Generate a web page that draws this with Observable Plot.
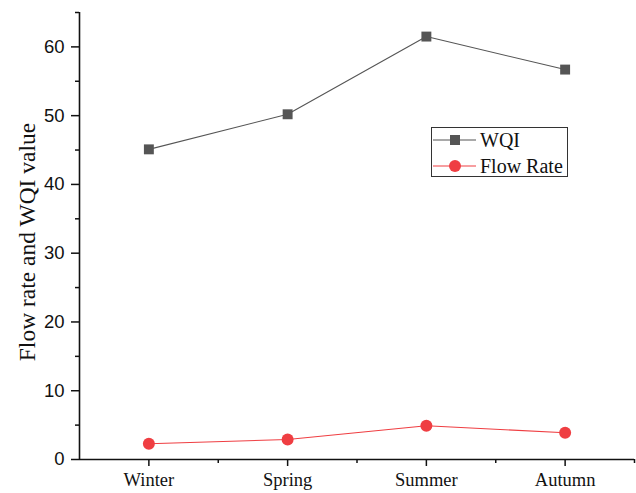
<!DOCTYPE html>
<html>
<head>
<meta charset="utf-8">
<script src="https://cdn.jsdelivr.net/npm/d3@7"></script>
<script src="https://cdn.jsdelivr.net/npm/@observablehq/plot@0.6"></script>
<style>
  body { margin: 0; background: #fff; }
  #wrap { position: relative; width: 636px; height: 493px; }
  #legend { position: absolute; left: 431px; top: 127px; width: 135px; height: 48px;
            border: 1px solid #333; font-family: "Liberation Serif", serif; font-size: 20px; color: #111; }
  .row { position: absolute; left: 0; height: 22px; display: flex; align-items: center; }
  .row svg { display: block; }
  .row span { margin-left: 2px; line-height: 22px; }
</style>
</head>
<body>
<div id="wrap"></div>
<script>
const seasons = ["Winter", "Spring", "Summer", "Autumn"];
const wqi = [45.1, 50.2, 61.5, 56.7];
const flowRate = [2.3, 2.9, 4.9, 3.9];
const yTicks = [0, 10, 20, 30, 40, 50, 60];
const yMinor = [5, 15, 25, 35, 45, 55, 65];
const seriesNames = ["WQI", "Flow Rate"];
const grayColor = "#555555";
const redColor = "#ef3e42";

const wqiData = seasons.map((s, i) => ({i, season: s, value: wqi[i]}));
const flowData = seasons.map((s, i) => ({i, season: s, value: flowRate[i]}));
const xIdx = seasons.map((s, i) => i);
const xMinor = seasons.map((s, i) => i + 0.5);

const chart = Plot.plot({
  width: 636,
  height: 493,
  marginLeft: 79,
  marginRight: 2,
  marginTop: 12,
  marginBottom: 34,
  style: {background: "transparent"},
  x: {type: "linear", domain: [-0.5, 3.5], axis: null},
  y: {domain: [0, 65], axis: null},
  marks: [
    Plot.ruleY([0], {stroke: "#111", strokeWidth: 1.6}),
    Plot.ruleX([-0.5], {stroke: "#111", strokeWidth: 1.6}),
    Plot.axisY({ticks: yTicks, tickSize: 8, tickPadding: 7, label: null, stroke: "#111", strokeWidth: 1.5,
      fontFamily: "Liberation Sans, Arial, sans-serif", fontSize: 18.5, fill: "#111"}),
    Plot.axisY({ticks: yMinor, tickSize: 4, text: null, label: null, stroke: "#111", strokeWidth: 1.5}),
    Plot.axisX({ticks: xIdx, tickFormat: i => seasons[i], tickSize: 7, tickPadding: 6, label: null,
      stroke: "#111", strokeWidth: 1.5,
      fontFamily: "Liberation Serif, Times New Roman, serif", fontSize: 18.5, fill: "#111"}),
    Plot.axisX({ticks: xMinor, tickSize: 4, text: null, label: null, stroke: "#111", strokeWidth: 1.5}),
    Plot.text(["Flow rate and WQI value"], {frameAnchor: "left", textAnchor: "middle", rotate: -90, dx: -52, dy: 6,
      fontFamily: "Liberation Serif, Times New Roman, serif", fontSize: 23.5, fill: "#111"}),
    Plot.line(wqiData, {x: "i", y: "value", stroke: grayColor, strokeWidth: 1.1}),
    Plot.dot(wqiData, {x: "i", y: "value", symbol: "square", r: 5.6, fill: grayColor, stroke: "none"}),
    Plot.line(flowData, {x: "i", y: "value", stroke: redColor, strokeWidth: 1.1}),
    Plot.dot(flowData, {x: "i", y: "value", symbol: "circle", r: 6, fill: redColor, stroke: "none"})
  ]
});

const wrap = document.getElementById("wrap");
wrap.appendChild(chart);

const legend = document.createElement("div");
legend.id = "legend";
const rowSpecs = [
  {name: seriesNames[0], color: grayColor, sym: "square", top: 1},
  {name: seriesNames[1], color: redColor, sym: "circle", top: 27}
];
for (const r of rowSpecs) {
  const row = document.createElement("div");
  row.className = "row";
  row.style.top = r.top + "px";
  const ns = "http://www.w3.org/2000/svg";
  const svg = document.createElementNS(ns, "svg");
  svg.setAttribute("width", 46);
  svg.setAttribute("height", 22);
  const ln = document.createElementNS(ns, "line");
  ln.setAttribute("x1", 1); ln.setAttribute("x2", 44);
  ln.setAttribute("y1", 11); ln.setAttribute("y2", 11);
  ln.setAttribute("stroke", r.color); ln.setAttribute("stroke-width", 1.1);
  svg.appendChild(ln);
  let m;
  if (r.sym === "square") {
    m = document.createElementNS(ns, "rect");
    m.setAttribute("x", 18); m.setAttribute("y", 6); m.setAttribute("width", 10); m.setAttribute("height", 10);
  } else {
    m = document.createElementNS(ns, "circle");
    m.setAttribute("cx", 23); m.setAttribute("cy", 11); m.setAttribute("r", 6);
  }
  m.setAttribute("fill", r.color);
  svg.appendChild(m);
  row.appendChild(svg);
  const t = document.createElement("span");
  t.textContent = r.name;
  row.appendChild(t);
  legend.appendChild(row);
}
wrap.appendChild(legend);
</script>
</body>
</html>
